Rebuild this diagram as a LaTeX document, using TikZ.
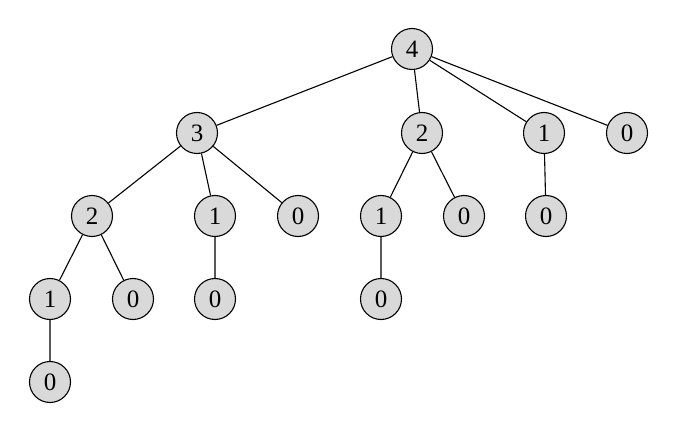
\documentclass[tikz,border=0pt]{standalone}
\usepackage{fontspec}
\setmainfont{Liberation Serif}
\begin{document}
\begin{tikzpicture}[x=1pt,y=-1pt,
  tn/.style={circle,draw=black,fill=black!15,line width=1.1pt,minimum size=41pt,inner sep=0pt,font=\fontsize{25}{28}\selectfont},
  edge/.style={line width=1.1pt}]
\useasboundingbox (0,0) rectangle (680,433);
\node[tn] (a) at (412,49) {4};
\node[tn] (b) at (197,133) {3};
\node[tn] (c) at (422,133) {2};
\node[tn] (d) at (544,133) {1};
\node[tn] (e) at (627,133) {0};
\node[tn] (ba) at (92,216) {2};
\node[tn] (bb) at (215,216) {1};
\node[tn] (bc) at (298,216) {0};
\node[tn] (ca) at (381,216) {1};
\node[tn] (cb) at (464,216) {0};
\node[tn] (da) at (546,216) {0};
\node[tn] (baa) at (50,299) {1};
\node[tn] (bab) at (133,299) {0};
\node[tn] (bba) at (215,299) {0};
\node[tn] (caa) at (381,299) {0};
\node[tn] (baaa) at (50,382) {0};
\draw[edge] (a)--(b) (a)--(c) (a)--(d) (a)--(e)
  (b)--(ba) (b)--(bb) (b)--(bc)
  (c)--(ca) (c)--(cb) (d)--(da)
  (ba)--(baa) (ba)--(bab) (bb)--(bba) (ca)--(caa)
  (baa)--(baaa);
\end{tikzpicture}
\end{document}
